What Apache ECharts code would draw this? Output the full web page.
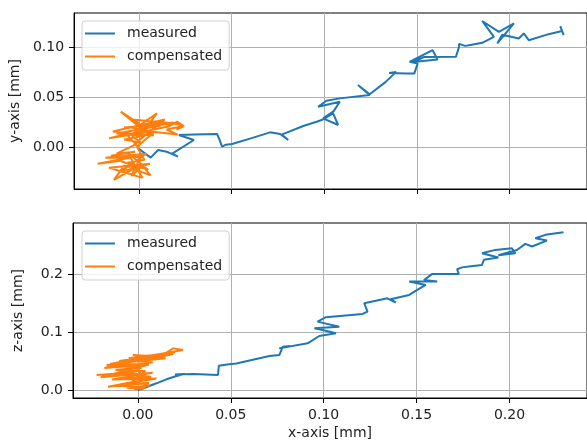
<!DOCTYPE html>
<html>
<head>
<meta charset="utf-8">
<script src="https://cdn.jsdelivr.net/npm/echarts@6/dist/echarts.min.js"></script>
<style>
  html, body { margin: 0; padding: 0; background: #fff; }
  #chart { width: 587px; height: 442px; }
</style>
</head>
<body>
<div id="chart"></div>
<script>
// measured / compensated paths, x-y plane (mm)
const xyMeasured = [
  [0.0000, -0.0010], [0.0064, -0.0099], [0.0104, -0.0023], [0.0150, -0.0040],
  [0.0172, -0.0056], [0.0211, -0.0089], [0.0180, -0.0060], [0.0297, 0.0076],
  [0.0216, 0.0126], [0.0300, 0.0130], [0.0422, 0.0136], [0.0436, 0.0076],
  [0.0449, 0.0010], [0.0470, 0.0030], [0.0503, 0.0037], [0.0600, 0.0090],
  [0.0708, 0.0152], [0.0762, 0.0136], [0.0806, 0.0076], [0.0770, 0.0130],
  [0.0887, 0.0215], [0.0959, 0.0257], [0.0986, 0.0274], [0.1048, 0.0340],
  [0.1075, 0.0225], [0.0994, 0.0290], [0.1050, 0.0360], [0.1084, 0.0455],
  [0.0967, 0.0406], [0.1012, 0.0465], [0.1084, 0.0489], [0.1245, 0.0522],
  [0.1182, 0.0621], [0.1245, 0.0530], [0.1330, 0.0650], [0.1388, 0.0752],
  [0.1350, 0.0740], [0.1442, 0.0737], [0.1486, 0.0737], [0.1504, 0.0836],
  [0.1460, 0.0852], [0.1584, 0.0968], [0.1611, 0.0875], [0.1480, 0.0850],
  [0.1540, 0.0900], [0.1710, 0.0901], [0.1727, 0.1000], [0.1727, 0.1030],
  [0.1760, 0.1010], [0.1781, 0.1017], [0.1852, 0.1040], [0.1915, 0.1100],
  [0.1852, 0.1257], [0.1942, 0.1149], [0.2023, 0.1232], [0.1933, 0.1034],
  [0.1960, 0.1120], [0.2049, 0.1083], [0.2076, 0.1133], [0.2103, 0.1066],
  [0.2210, 0.1126], [0.2282, 0.1158], [0.2273, 0.1205], [0.2291, 0.1116]
];
const xyCompensated = [
  [0.0000, 0.0000], [-0.0060, 0.0120], [0.0020, 0.0180], [-0.0097, 0.0357],
  [0.0010, 0.0230], [0.0098, 0.0340], [0.0040, 0.0200], [0.0180, 0.0250],
  [0.0243, 0.0215], [0.0150, 0.0180], [0.0210, 0.0130], [0.0060, 0.0160],
  [-0.0160, 0.0093], [-0.0050, 0.0140], [0.0010, 0.0050], [-0.0080, 0.0080],
  [0.0030, 0.0120], [-0.0120, 0.0140], [0.0120, 0.0220], [-0.0080, 0.0200],
  [0.0200, 0.0240], [-0.0040, 0.0280], [0.0080, 0.0120], [-0.0140, 0.0160],
  [0.0140, 0.0280], [0.0020, 0.0100], [-0.0030, 0.0020], [-0.0120, -0.0060],
  [-0.0020, -0.0040], [-0.0150, -0.0080], [-0.0050, -0.0100], [-0.0222, -0.0160],
  [-0.0100, -0.0130], [0.0000, -0.0200], [-0.0080, -0.0180], [-0.0134, -0.0320],
  [-0.0030, -0.0210], [0.0063, -0.0273], [0.0020, -0.0180], [-0.0040, -0.0280],
  [0.0010, -0.0090], [-0.0180, -0.0100], [0.0040, -0.0060], [-0.0100, -0.0240],
  [0.0060, -0.0160], [-0.0160, -0.0200], [0.0020, -0.0300], [-0.0060, -0.0050],
  [0.0050, -0.0220], [-0.0060, -0.0150], [0.0030, -0.0120], [-0.0010, 0.0010],
  [0.0080, 0.0150], [-0.0040, 0.0200], [0.0120, 0.0260], [0.0000, 0.0150],
  [0.0160, 0.0210], [0.0207, 0.0258], [0.0243, 0.0215], [0.0203, 0.0179]
];

// measured / compensated paths, x-z plane (mm)
const xzMeasured = [
  [0.0000, 0.0000], [0.0020, 0.0017], [0.0100, 0.0116], [0.0154, 0.0185],
  [0.0208, 0.0242], [0.0252, 0.0277], [0.0200, 0.0270], [0.0300, 0.0277],
  [0.0431, 0.0260], [0.0436, 0.0420], [0.0480, 0.0440], [0.0530, 0.0460],
  [0.0708, 0.0588], [0.0762, 0.0606], [0.0780, 0.0750], [0.0820, 0.0760],
  [0.0760, 0.0720], [0.0914, 0.0807], [0.0976, 0.0934], [0.1066, 0.0980],
  [0.0994, 0.1038], [0.0950, 0.1067], [0.1084, 0.1095], [0.0967, 0.1182],
  [0.1012, 0.1258], [0.1209, 0.1315], [0.1236, 0.1355], [0.1218, 0.1500],
  [0.1343, 0.1586], [0.1388, 0.1510], [0.1360, 0.1570], [0.1460, 0.1644],
  [0.1504, 0.1730], [0.1549, 0.1817], [0.1460, 0.1874], [0.1611, 0.1874],
  [0.1540, 0.1900], [0.1584, 0.2007], [0.1727, 0.2007], [0.1718, 0.2088],
  [0.1745, 0.2120], [0.1781, 0.2134], [0.1852, 0.2163], [0.1862, 0.2250],
  [0.1940, 0.2290], [0.1852, 0.2365], [0.1924, 0.2422], [0.2013, 0.2450],
  [0.2031, 0.2365], [0.1940, 0.2330], [0.2040, 0.2420], [0.2085, 0.2526],
  [0.2121, 0.2480], [0.2201, 0.2583], [0.2139, 0.2624], [0.2193, 0.2682],
  [0.2291, 0.2728]
];
const xzCompensated = [
  [0.0000, 0.0000], [-0.0080, 0.0100], [0.0060, 0.0120], [-0.0160, 0.0058],
  [0.0040, 0.0180], [-0.0060, 0.0200], [0.0072, 0.0230], [-0.0100, 0.0280],
  [-0.0222, 0.0259], [-0.0050, 0.0300], [0.0030, 0.0260], [-0.0120, 0.0350],
  [0.0020, 0.0380], [-0.0168, 0.0432], [0.0000, 0.0450], [0.0080, 0.0480],
  [-0.0040, 0.0500], [0.0100, 0.0550], [-0.0027, 0.0605], [0.0120, 0.0580],
  [0.0050, 0.0520], [0.0190, 0.0620], [0.0080, 0.0600], [0.0243, 0.0690],
  [0.0190, 0.0720], [0.0150, 0.0640], [-0.0150, 0.0450], [0.0150, 0.0550],
  [-0.0100, 0.0500], [0.0200, 0.0650], [-0.0050, 0.0550], [0.0120, 0.0620],
  [-0.0180, 0.0380], [0.0060, 0.0440], [-0.0200, 0.0220], [0.0080, 0.0300],
  [-0.0140, 0.0180], [0.0100, 0.0200], [-0.0120, 0.0080], [0.0040, 0.0040],
  [0.0000, 0.0400], [-0.0100, 0.0330], [0.0040, 0.0330], [-0.0030, 0.0150],
  [0.0064, 0.0080], [-0.0060, 0.0040], [0.0030, 0.0020]
];

const seriesNames = ['measured', 'compensated'];
const xTicks = [0, 0.05, 0.10, 0.15, 0.20];
const yTicks = [0, 0.05, 0.10];
const zTicks = [0, 0.1, 0.2];
const xRange = [-0.0349, 0.2417];
const yRange = [-0.041, 0.1336];
const zRange = [-0.0138, 0.2887];

const FONT = 'DejaVu Sans';
const BLUE = '#1f77b4';
const ORANGE = '#ff7f0e';

const chart = echarts.init(document.getElementById('chart'));

function valueAxis(ticks, extra) {
  return Object.assign({
    type: 'value',
    axisLine: { show: true, onZero: false, lineStyle: { color: '#000', width: 1 } },
    axisTick: { show: true, length: 5, customValues: ticks, lineStyle: { color: '#000', width: 1 } },
    splitLine: { show: true, lineStyle: { color: '#b0b0b0', width: 1 } },
    nameTextStyle: { fontFamily: FONT, fontSize: 14, color: '#222' }
  }, extra);
}

function tickLabels(ticks, digits) {
  return { fontFamily: FONT, fontSize: 14, color: '#222', margin: 10,
           customValues: ticks,
           formatter: v => v.toFixed(digits) };
}

function legendAt(top) {
  return {
    data: seriesNames,
    orient: 'vertical',
    left: 82, top: top,
    icon: 'rect',
    itemWidth: 30, itemHeight: 2, itemGap: 8,
    padding: [5, 7, 6, 3],
    backgroundColor: 'rgba(255,255,255,0.8)',
    borderColor: '#d0d0d0', borderWidth: 1, borderRadius: 3,
    textStyle: { fontFamily: FONT, fontSize: 14, lineHeight: 15, color: '#222', padding: [0, 0, 0, 7] }
  };
}

function line(name, color, data, axis) {
  return {
    type: 'line', name: name, data: data,
    xAxisIndex: axis, yAxisIndex: axis,
    symbol: 'none', showSymbol: false,
    lineStyle: { color: color, width: 2 },
    itemStyle: { color: color }
  };
}

chart.setOption({
  animation: false,
  textStyle: { fontFamily: FONT },
  grid: [
    { left: 73, top: 13, width: 516, height: 176, show: true, borderColor: '#000', borderWidth: 1 },
    { left: 73, top: 223, width: 516, height: 175, show: true, borderColor: '#000', borderWidth: 1 }
  ],
  xAxis: [
    valueAxis(xTicks, { gridIndex: 0, min: xRange[0], max: xRange[1], splitNumber: 5,
                axisLabel: { show: false } }),
    valueAxis(xTicks, { gridIndex: 1, min: xRange[0], max: xRange[1], splitNumber: 5,
                name: 'x-axis [mm]', nameLocation: 'middle', nameGap: 28,
                axisLabel: tickLabels(xTicks, 2) })
  ],
  yAxis: [
    valueAxis(yTicks, { gridIndex: 0, min: yRange[0], max: yRange[1], splitNumber: 3,
                name: 'y-axis [mm]', nameLocation: 'middle', nameGap: 48,
                axisLabel: tickLabels(yTicks, 2) }),
    valueAxis(zTicks, { gridIndex: 1, min: zRange[0], max: zRange[1], splitNumber: 3,
                name: 'z-axis [mm]', nameLocation: 'middle', nameGap: 48,
                axisLabel: tickLabels(zTicks, 1) })
  ],
  legend: [legendAt(21), legendAt(231)],
  series: [
    line(seriesNames[0], BLUE, xyMeasured, 0),
    line(seriesNames[1], ORANGE, xyCompensated, 0),
    line(seriesNames[0], BLUE, xzMeasured, 1),
    line(seriesNames[1], ORANGE, xzCompensated, 1)
  ]
});
</script>
</body>
</html>
